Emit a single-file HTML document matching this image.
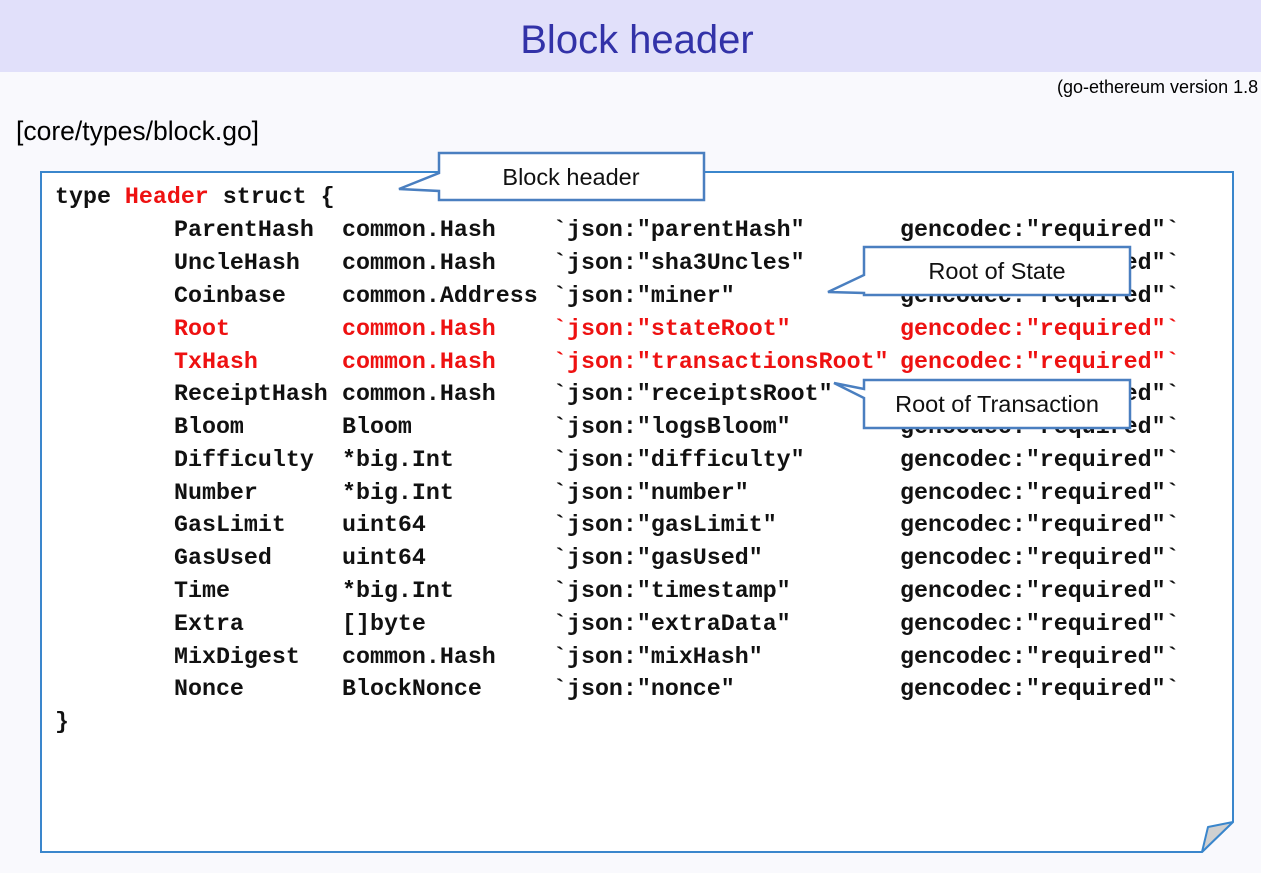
<!DOCTYPE html>
<html><head><meta charset="utf-8"><style>
html,body{margin:0;padding:0;background:#f9f9fd;}
svg{display:block}
</style></head><body>
<svg width="1261" height="873" viewBox="0 0 1261 873" xmlns="http://www.w3.org/2000/svg">
<rect x="0" y="0" width="1261" height="873" fill="#f9f9fd"/>
<rect x="0" y="0" width="1261" height="72" fill="#e1e0fa"/>
<text x="637" y="53" text-anchor="middle" font-family="Liberation Sans, sans-serif" font-size="40" fill="#3232a8">Block header</text>
<text x="1057" y="93" font-family="Liberation Sans, sans-serif" font-size="18" fill="#000">(go-ethereum version 1.8</text>
<text x="16" y="140" font-family="Liberation Sans, sans-serif" font-size="26.5" fill="#000">[core/types/block.go]</text>
<path d="M41,172 L1233,172 L1233,822 L1202,852 L41,852 Z" fill="#fff" stroke="#3a86cc" stroke-width="2"/>
<path d="M1233,822 L1208,827 L1202,852 Z" fill="#d0d0d0" stroke="#3a86cc" stroke-width="2" stroke-linejoin="round"/>
<g font-family="Liberation Mono, Courier New, monospace" font-size="23.3" font-weight="bold" fill="#111">
<text x="55" y="203">type <tspan fill="#ee1111">Header</tspan> struct {</text>
<g>
<text x="174" y="236">ParentHash</text><text x="342" y="236">common.Hash</text><text x="553" y="236">`json:"parentHash"</text><text x="900" y="236">gencodec:"required"`</text>
<text x="174" y="269">UncleHash</text><text x="342" y="269">common.Hash</text><text x="553" y="269">`json:"sha3Uncles"</text><text x="900" y="269">gencodec:"required"`</text>
<text x="174" y="302">Coinbase</text><text x="342" y="302">common.Address</text><text x="553" y="302">`json:"miner"</text><text x="900" y="302">gencodec:"required"`</text>
<g fill="#ee1111">
<text x="174" y="335">Root</text><text x="342" y="335">common.Hash</text><text x="553" y="335">`json:"stateRoot"</text><text x="900" y="335">gencodec:"required"`</text>
<text x="174" y="368">TxHash</text><text x="342" y="368">common.Hash</text><text x="553" y="368">`json:"transactionsRoot"</text><text x="900" y="368">gencodec:"required"`</text>
</g>
<text x="174" y="400">ReceiptHash</text><text x="342" y="400">common.Hash</text><text x="553" y="400">`json:"receiptsRoot"</text><text x="900" y="400">gencodec:"required"`</text>
<text x="174" y="433">Bloom</text><text x="342" y="433">Bloom</text><text x="553" y="433">`json:"logsBloom"</text><text x="900" y="433">gencodec:"required"`</text>
<text x="174" y="466">Difficulty</text><text x="342" y="466">*big.Int</text><text x="553" y="466">`json:"difficulty"</text><text x="900" y="466">gencodec:"required"`</text>
<text x="174" y="499">Number</text><text x="342" y="499">*big.Int</text><text x="553" y="499">`json:"number"</text><text x="900" y="499">gencodec:"required"`</text>
<text x="174" y="531">GasLimit</text><text x="342" y="531">uint64</text><text x="553" y="531">`json:"gasLimit"</text><text x="900" y="531">gencodec:"required"`</text>
<text x="174" y="564">GasUsed</text><text x="342" y="564">uint64</text><text x="553" y="564">`json:"gasUsed"</text><text x="900" y="564">gencodec:"required"`</text>
<text x="174" y="597">Time</text><text x="342" y="597">*big.Int</text><text x="553" y="597">`json:"timestamp"</text><text x="900" y="597">gencodec:"required"`</text>
<text x="174" y="630">Extra</text><text x="342" y="630">[]byte</text><text x="553" y="630">`json:"extraData"</text><text x="900" y="630">gencodec:"required"`</text>
<text x="174" y="663">MixDigest</text><text x="342" y="663">common.Hash</text><text x="553" y="663">`json:"mixHash"</text><text x="900" y="663">gencodec:"required"`</text>
<text x="174" y="695">Nonce</text><text x="342" y="695">BlockNonce</text><text x="553" y="695">`json:"nonce"</text><text x="900" y="695">gencodec:"required"`</text>
</g>
<text x="55" y="728">}</text>
</g>
<g stroke="#4a7fc0" stroke-width="2.5" fill="#fff" stroke-linejoin="miter">
<path d="M439,153 L704,153 L704,200 L439,200 L439,191 L399,189 L439,173 Z"/>
<path d="M864,247 L1130,247 L1130,295 L864,295 L864,293 L828,292 L864,275 Z"/>
<path d="M864,380 L1130,380 L1130,428 L864,428 L864,398 L834,383 L864,389 Z"/>
</g>
<g font-family="Liberation Sans, sans-serif" font-size="23.5" fill="#111" text-anchor="middle">
<text x="571" y="185">Block header</text>
<text x="997" y="279">Root of State</text>
<text x="997" y="412">Root of Transaction</text>
</g>
</svg>
</body></html>
